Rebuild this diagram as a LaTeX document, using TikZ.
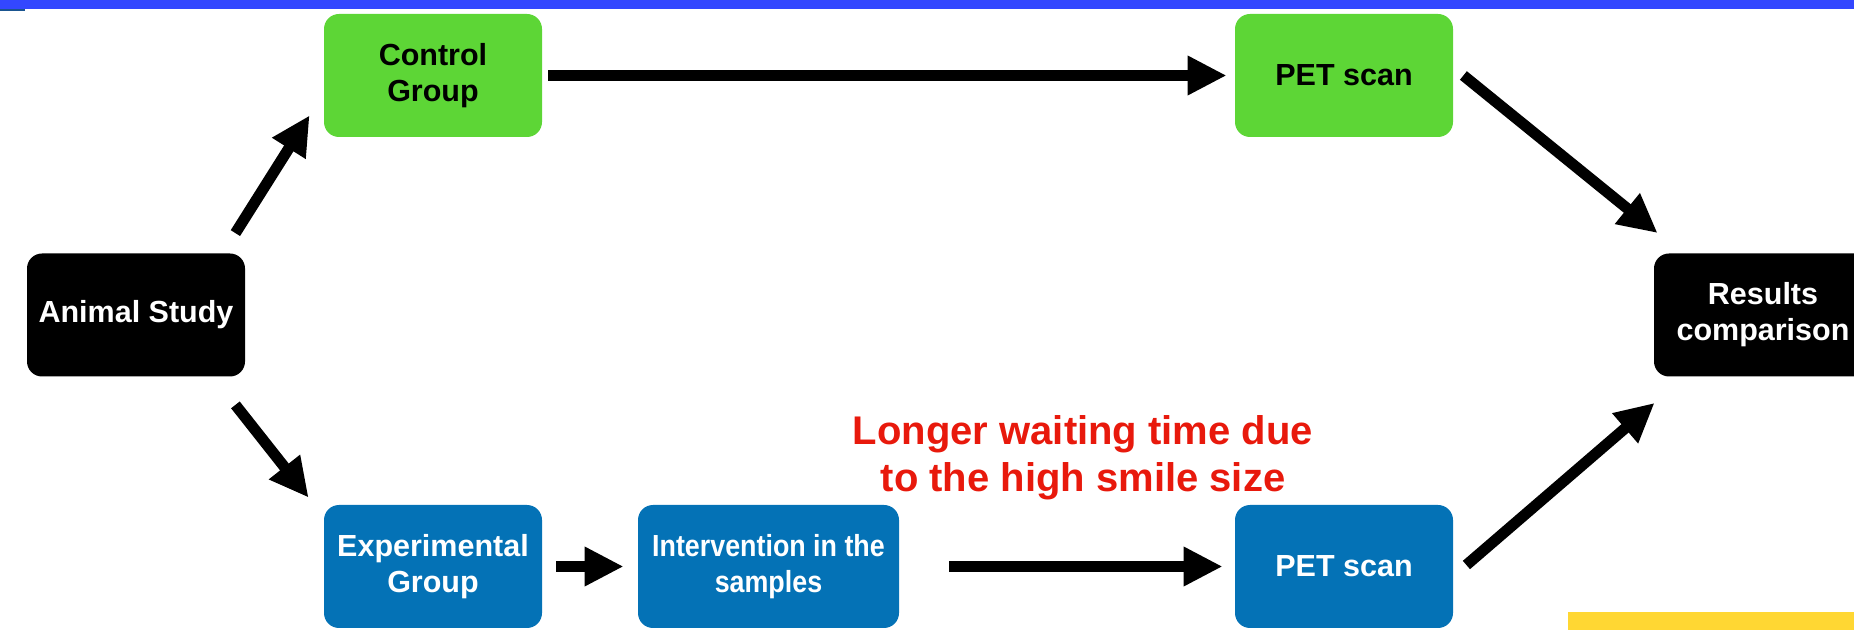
\documentclass[tikz,border=0pt]{standalone}
\usepackage{fontspec}
\setmainfont{Liberation Sans}
\newfontfamily\narrowsans{Liberation Sans}[FakeStretch=0.88]
\usetikzlibrary{arrows.meta}
\definecolor{barblue}{RGB}{51,71,255}
\definecolor{markblue}{RGB}{26,85,144}
\definecolor{grp}{RGB}{93,214,54}
\definecolor{exp}{RGB}{4,114,182}
\definecolor{note}{RGB}{232,25,12}
\definecolor{barylw}{RGB}{255,215,51}
\tikzset{
  box/.style={rounded corners=7.5pt, minimum width=109pt, minimum height=61.5pt,
    inner sep=2pt, align=center, font=\bfseries\fontsize{15.25}{18}\selectfont},
  ctrlbox/.style={box, fill=grp, text=black},
  expbox/.style={box, fill=exp, text=white},
  endbox/.style={box, fill=black, text=white},
  arr/.style={line width=5.5pt, -{Triangle[length=19.5pt,width=18.5pt]}},
}
\begin{document}
\begin{tikzpicture}[x=0.5pt,y=-0.5pt]
  \useasboundingbox (0,0) rectangle (1854,630);
  \begin{scope}
    \clip (0,0) rectangle (1854,630);
    % page decorations
    \fill[barblue] (0,0) rectangle (1854,9.5);
    \fill[markblue] (0,9.5) rectangle (25,11.5);
    \fill[barylw] (1568,612) rectangle (1854,630);

    % boxes
    \node[endbox]  (an)  at (136,315)    {Animal Study};
    \node[ctrlbox] (cg)  at (433,75.5)   {Control\\Group};
    \node[ctrlbox] (pt1) at (1344,75.5)  {PET scan};
    \node[expbox]  (eg)  at (433,566.5)  {Experimental\\Group};
    \node[expbox, minimum width=130.5pt,
      font=\narrowsans\bfseries\fontsize{15.25}{18}\selectfont] (iv) at (768.5,566.5)
      {Intervention in the\\samples};
    \node[expbox]  (pt2) at (1344,566.5) {PET scan};
    \node[endbox]  (rc)  at (1763,315)   {Results\\comparison};

    % note
    \node[text=note, align=center, inner sep=0pt,
      font=\bfseries\fontsize{20}{23.5}\selectfont] (nt) at (1083,458)
      {Longer waiting time due\\to the high smile size};

    % connectors
    \draw[arr] ([shift={(-5pt,10pt)}]an.north east) -- ([shift={(-7pt,11pt)}]cg.south west);
    \draw[arr] ([shift={(-5pt,-14pt)}]an.south east) -- ([shift={(-7.5pt,3.5pt)}]eg.north west);
    \draw[arr] ([xshift=3pt]cg.east) -- ([xshift=-4pt]pt1.west);
    \draw[arr] ([xshift=7pt]eg.east) -- ([xshift=-7pt]iv.west);
    \draw[arr] ([xshift=25pt]iv.east) -- ([xshift=-6pt]pt2.west);
    \draw[arr] ([xshift=5pt]pt1.east) -- ([shift={(2pt,10pt)}]rc.north west);
    \draw[arr] ([shift={(6.5pt,0.75pt)}]pt2.east) -- ([shift={(0.5pt,-13pt)}]rc.south west);
  \end{scope}
\end{tikzpicture}
\end{document}
